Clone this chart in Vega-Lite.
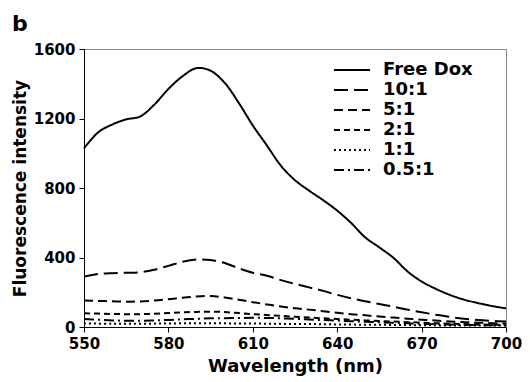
{
  "$schema": "https://vega.github.io/schema/vega-lite/v6.json",
  "autosize": {"type": "none"},
  "padding": {"left": 84, "top": 49, "right": 24, "bottom": 55},
  "width": 422,
  "height": 278,
  "title": {"text": "b", "anchor": "start", "frame": "group", "dx": -72, "offset": 6, "font": "DejaVu Sans", "fontSize": 22, "fontWeight": "bold", "color": "black"},
  "config": {
    "view": {"stroke": "#888888", "strokeWidth": 1},
    "font": "DejaVu Sans",
    "axis": {"grid": false, "domainColor": "black", "tickColor": "black", "labelColor": "black", "titleColor": "black", "labelFont": "DejaVu Sans", "titleFont": "DejaVu Sans", "labelFontWeight": "bold", "titleFontWeight": "bold", "labelFontSize": 15, "tickSize": 5, "domainWidth": 1, "tickWidth": 1}
  },
  "data": {"values": [
    {"w":550,"s":"Free Dox","v":1028},{"w":555,"s":"Free Dox","v":1120},{"w":560,"s":"Free Dox","v":1165},{"w":565,"s":"Free Dox","v":1195},{"w":570,"s":"Free Dox","v":1212},{"w":575,"s":"Free Dox","v":1280},{"w":580,"s":"Free Dox","v":1370},{"w":585,"s":"Free Dox","v":1443},{"w":590,"s":"Free Dox","v":1490},{"w":595,"s":"Free Dox","v":1475},{"w":600,"s":"Free Dox","v":1405},{"w":605,"s":"Free Dox","v":1290},{"w":610,"s":"Free Dox","v":1160},{"w":615,"s":"Free Dox","v":1045},{"w":620,"s":"Free Dox","v":928},{"w":625,"s":"Free Dox","v":845},{"w":630,"s":"Free Dox","v":785},{"w":635,"s":"Free Dox","v":730},{"w":640,"s":"Free Dox","v":670},{"w":645,"s":"Free Dox","v":598},{"w":650,"s":"Free Dox","v":515},{"w":655,"s":"Free Dox","v":458},{"w":660,"s":"Free Dox","v":398},{"w":665,"s":"Free Dox","v":320},{"w":670,"s":"Free Dox","v":262},{"w":675,"s":"Free Dox","v":220},{"w":680,"s":"Free Dox","v":185},{"w":685,"s":"Free Dox","v":158},{"w":690,"s":"Free Dox","v":138},{"w":695,"s":"Free Dox","v":121},{"w":700,"s":"Free Dox","v":107},
    {"w":550,"s":"10:1","v":290},{"w":555,"s":"10:1","v":305},{"w":560,"s":"10:1","v":310},{"w":565,"s":"10:1","v":312},{"w":570,"s":"10:1","v":315},{"w":575,"s":"10:1","v":330},{"w":580,"s":"10:1","v":352},{"w":585,"s":"10:1","v":375},{"w":590,"s":"10:1","v":388},{"w":595,"s":"10:1","v":386},{"w":600,"s":"10:1","v":368},{"w":605,"s":"10:1","v":338},{"w":610,"s":"10:1","v":312},{"w":615,"s":"10:1","v":295},{"w":620,"s":"10:1","v":270},{"w":625,"s":"10:1","v":248},{"w":630,"s":"10:1","v":228},{"w":635,"s":"10:1","v":208},{"w":640,"s":"10:1","v":185},{"w":645,"s":"10:1","v":165},{"w":650,"s":"10:1","v":148},{"w":655,"s":"10:1","v":132},{"w":660,"s":"10:1","v":117},{"w":665,"s":"10:1","v":100},{"w":670,"s":"10:1","v":85},{"w":675,"s":"10:1","v":71},{"w":680,"s":"10:1","v":58},{"w":685,"s":"10:1","v":48},{"w":690,"s":"10:1","v":40},{"w":695,"s":"10:1","v":35},{"w":700,"s":"10:1","v":32},
    {"w":550,"s":"5:1","v":152},{"w":555,"s":"5:1","v":150},{"w":560,"s":"5:1","v":148},{"w":565,"s":"5:1","v":146},{"w":570,"s":"5:1","v":147},{"w":575,"s":"5:1","v":152},{"w":580,"s":"5:1","v":160},{"w":585,"s":"5:1","v":168},{"w":590,"s":"5:1","v":176},{"w":595,"s":"5:1","v":178},{"w":600,"s":"5:1","v":170},{"w":605,"s":"5:1","v":157},{"w":610,"s":"5:1","v":143},{"w":615,"s":"5:1","v":130},{"w":620,"s":"5:1","v":118},{"w":625,"s":"5:1","v":108},{"w":630,"s":"5:1","v":100},{"w":635,"s":"5:1","v":91},{"w":640,"s":"5:1","v":82},{"w":645,"s":"5:1","v":74},{"w":650,"s":"5:1","v":67},{"w":655,"s":"5:1","v":60},{"w":660,"s":"5:1","v":54},{"w":665,"s":"5:1","v":48},{"w":670,"s":"5:1","v":42},{"w":675,"s":"5:1","v":37},{"w":680,"s":"5:1","v":32},{"w":685,"s":"5:1","v":28},{"w":690,"s":"5:1","v":25},{"w":695,"s":"5:1","v":22},{"w":700,"s":"5:1","v":20},
    {"w":550,"s":"2:1","v":79},{"w":555,"s":"2:1","v":77},{"w":560,"s":"2:1","v":75},{"w":565,"s":"2:1","v":74},{"w":570,"s":"2:1","v":74},{"w":575,"s":"2:1","v":76},{"w":580,"s":"2:1","v":80},{"w":585,"s":"2:1","v":84},{"w":590,"s":"2:1","v":87},{"w":595,"s":"2:1","v":88},{"w":600,"s":"2:1","v":86},{"w":605,"s":"2:1","v":80},{"w":610,"s":"2:1","v":74},{"w":615,"s":"2:1","v":69},{"w":620,"s":"2:1","v":64},{"w":625,"s":"2:1","v":59},{"w":630,"s":"2:1","v":54},{"w":635,"s":"2:1","v":50},{"w":640,"s":"2:1","v":46},{"w":645,"s":"2:1","v":42},{"w":650,"s":"2:1","v":38},{"w":655,"s":"2:1","v":34},{"w":660,"s":"2:1","v":31},{"w":665,"s":"2:1","v":28},{"w":670,"s":"2:1","v":25},{"w":675,"s":"2:1","v":22},{"w":680,"s":"2:1","v":19},{"w":685,"s":"2:1","v":17},{"w":690,"s":"2:1","v":15},{"w":695,"s":"2:1","v":13},{"w":700,"s":"2:1","v":12},
    {"w":550,"s":"1:1","v":20},{"w":560,"s":"1:1","v":19},{"w":570,"s":"1:1","v":19},{"w":580,"s":"1:1","v":20},{"w":590,"s":"1:1","v":22},{"w":600,"s":"1:1","v":21},{"w":610,"s":"1:1","v":20},{"w":620,"s":"1:1","v":18},{"w":630,"s":"1:1","v":17},{"w":640,"s":"1:1","v":15},{"w":650,"s":"1:1","v":13},{"w":660,"s":"1:1","v":12},{"w":670,"s":"1:1","v":10},{"w":680,"s":"1:1","v":9},{"w":690,"s":"1:1","v":8},{"w":700,"s":"1:1","v":8},
    {"w":550,"s":"0.5:1","v":46},{"w":555,"s":"0.5:1","v":42},{"w":560,"s":"0.5:1","v":38},{"w":565,"s":"0.5:1","v":36},{"w":570,"s":"0.5:1","v":36},{"w":575,"s":"0.5:1","v":38},{"w":580,"s":"0.5:1","v":41},{"w":585,"s":"0.5:1","v":44},{"w":590,"s":"0.5:1","v":47},{"w":595,"s":"0.5:1","v":50},{"w":600,"s":"0.5:1","v":51},{"w":605,"s":"0.5:1","v":52},{"w":610,"s":"0.5:1","v":53},{"w":615,"s":"0.5:1","v":52},{"w":620,"s":"0.5:1","v":50},{"w":625,"s":"0.5:1","v":47},{"w":630,"s":"0.5:1","v":43},{"w":635,"s":"0.5:1","v":40},{"w":640,"s":"0.5:1","v":37},{"w":645,"s":"0.5:1","v":33},{"w":650,"s":"0.5:1","v":30},{"w":655,"s":"0.5:1","v":27},{"w":660,"s":"0.5:1","v":24},{"w":665,"s":"0.5:1","v":21},{"w":670,"s":"0.5:1","v":18},{"w":675,"s":"0.5:1","v":16},{"w":680,"s":"0.5:1","v":14},{"w":685,"s":"0.5:1","v":12},{"w":690,"s":"0.5:1","v":11},{"w":695,"s":"0.5:1","v":10},{"w":700,"s":"0.5:1","v":9}
  ]},
  "mark": {"type": "line", "interpolate": "catmull-rom", "color": "black", "strokeWidth": 2},
  "encoding": {
    "x": {"field": "w", "type": "quantitative", "scale": {"domain": [550, 700], "nice": false, "zero": false},
      "axis": {"values": [550, 580, 610, 640, 670, 700], "format": "d", "title": "Wavelength (nm)", "titleFontSize": 18, "labelPadding": 4, "titlePadding": 6, "labelFlush": false}},
    "y": {"field": "v", "type": "quantitative", "scale": {"domain": [0, 1600], "nice": false},
      "axis": {"values": [0, 400, 800, 1200, 1600], "format": "d", "title": "Fluorescence intensity", "titleFontSize": 17, "labelPadding": 4, "titlePadding": 4}},
    "strokeDash": {"field": "s", "type": "nominal",
      "scale": {"domain": ["Free Dox", "10:1", "5:1", "2:1", "1:1", "0.5:1"], "range": [[1, 0], [14, 6], [9, 5], [6, 4], [2, 3], [10, 4, 2, 4]]},
      "legend": {"title": null, "orient": "none", "legendX": 259, "legendY": 12, "padding": 0, "symbolType": "M-3,0H3", "symbolSize": 144, "symbolStrokeWidth": 2, "symbolStrokeColor": "black", "symbolFillColor": "transparent", "labelFont": "DejaVu Sans", "labelFontWeight": "bold", "labelFontSize": 18, "labelColor": "black", "labelOffset": 22, "rowPadding": 2}}
  }
}
